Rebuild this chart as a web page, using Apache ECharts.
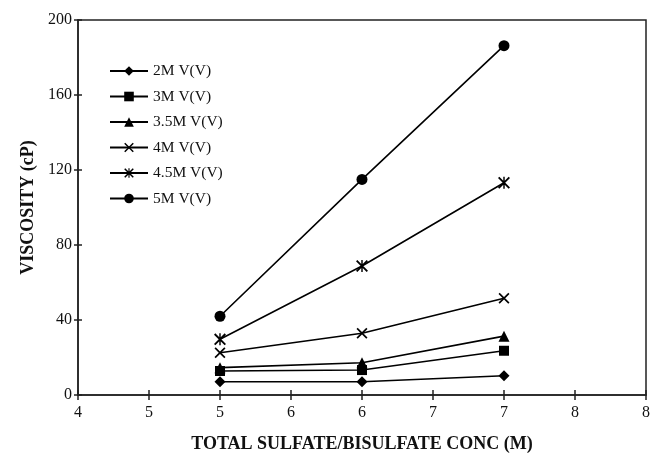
<!DOCTYPE html>
<html>
<head>
<meta charset="utf-8">
<script src="https://cdn.jsdelivr.net/npm/echarts@6/dist/echarts.min.js"></script>
<style>
  html, body { margin: 0; padding: 0; background: #fff; }
  #chart { width: 653px; height: 458px; }
</style>
</head>
<body>
<div id="chart"></div>
<script>
// Total sulfate/bisulfate concentration (M) at which viscosity was measured
const concentrations = [5, 6, 7];

// Viscosity (cP) for each vanadium(V) concentration
const visc2M  = [7.1, 7.1, 10.3];
const visc3M  = [12.8, 13.3, 23.6];
const visc35M = [14.6, 17.2, 31.4];
const visc4M  = [22.5, 32.9, 51.6];
const visc45M = [29.7, 68.8, 113.2];
const visc5M  = [42.0, 115.0, 186.3];

const seriesNames = ['2M V(V)', '3M V(V)', '3.5M V(V)', '4M V(V)', '4.5M V(V)', '5M V(V)'];

// Tick labels along the concentration axis (0.5 M steps, printed as whole numbers)
const xTickLabels = ['4', '5', '5', '6', '6', '7', '7', '8', '8'];
const yTickLabels = ['0', '40', '80', '120', '160', '200'];

const FONT = '"Liberation Serif", "Times New Roman", serif';

// Marker outlines: a cross and an asterisk built from filled bars
const crossPath = 'path://M0,11L11,0L100,89L89,100Z M89,0L100,11L11,100L0,89Z';
const starPath = 'path://M0,11L11,0L100,89L89,100Z M89,0L100,11L11,100L0,89Z M44,0L56,0L56,100L44,100Z';

const symbols = ['diamond', 'rect', 'triangle', crossPath, starPath, 'circle'];
const symbolSizes = [11, 10, 11, 11, 12, 11];
const values = [visc2M, visc3M, visc35M, visc4M, visc45M, visc5M];

const series = seriesNames.map((name, i) => ({
  name,
  type: 'line',
  xAxisIndex: 0,
  yAxisIndex: 0,
  data: concentrations.map((c, j) => [c, values[i][j]]),
  symbol: symbols[i],
  symbolSize: symbolSizes[i],
  showSymbol: true,
  lineStyle: { color: '#000', width: 1.6 },
  itemStyle: { color: '#000', borderWidth: 0 },
  emphasis: { disabled: true },
  animation: false
}));

const chart = echarts.init(document.getElementById('chart'), null, { renderer: 'canvas' });

const axisLine = { show: true, lineStyle: { color: '#222', width: 1.5 } };

chart.setOption({
  animation: false,
  backgroundColor: '#fff',
  grid: {
    left: 78, right: 7, top: 20, bottom: 63,
    show: true, borderColor: '#222', borderWidth: 1.5, backgroundColor: 'transparent'
  },
  legend: {
    orient: 'vertical',
    left: 104, top: 58,
    itemWidth: 38, itemHeight: 12, itemGap: 9.5,
    textStyle: { fontFamily: FONT, fontSize: 15.5, color: '#111' },
    data: seriesNames,
    selectedMode: false
  },
  xAxis: [
    {
      type: 'value', min: 4, max: 8, interval: 0.5,
      axisLine,
      axisTick: { show: true, inside: false, length: 5, lineStyle: { color: '#222', width: 1.5 } },
      axisLabel: {
        fontFamily: FONT, fontSize: 16, color: '#111', margin: 10,
        formatter: v => xTickLabels[Math.round((v - 4) / 0.5)]
      },
      splitLine: { show: false },
      name: 'TOTAL SULFATE/BISULFATE CONC (M)',
      nameLocation: 'middle', nameGap: 40,
      nameTextStyle: { fontFamily: FONT, fontSize: 18, fontWeight: 'bold', color: '#111' }
    },
    {
      type: 'value', min: 4, max: 8, interval: 0.5, position: 'bottom',
      axisLine: { show: false },
      axisTick: { show: true, inside: true, length: 5, lineStyle: { color: '#222', width: 1.5 } },
      axisLabel: { show: false },
      splitLine: { show: false }
    }
  ],
  yAxis: [
    {
      type: 'value', min: 0, max: 200, interval: 40,
      axisLine,
      axisTick: { show: true, inside: false, length: 4, lineStyle: { color: '#222', width: 1.5 } },
      axisLabel: {
        fontFamily: FONT, fontSize: 16, color: '#111', margin: 6,
        formatter: v => yTickLabels[Math.round(v / 40)]
      },
      splitLine: { show: false },
      name: 'VISCOSITY (cP)',
      nameLocation: 'middle', nameGap: 41,
      nameTextStyle: { fontFamily: FONT, fontSize: 18, fontWeight: 'bold', color: '#111' }
    },
    {
      type: 'value', min: 0, max: 200, interval: 40, position: 'left',
      axisLine: { show: false },
      axisTick: { show: true, inside: true, length: 4, lineStyle: { color: '#222', width: 1.5 } },
      axisLabel: { show: false },
      splitLine: { show: false }
    }
  ],
  series
});
</script>
</body>
</html>
